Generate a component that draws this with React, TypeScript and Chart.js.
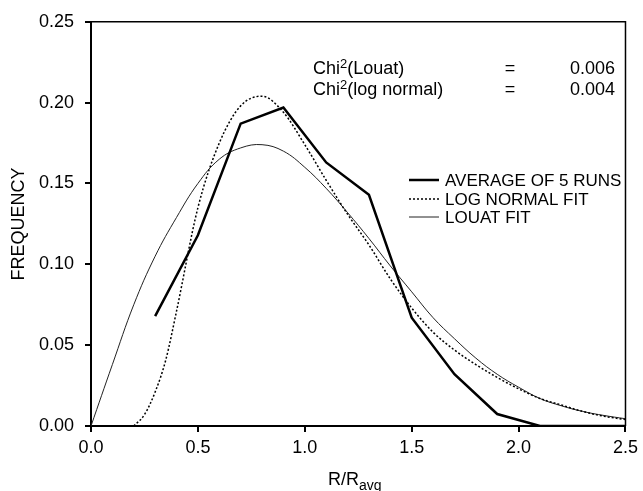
import React, { useEffect, useRef } from "react";
import { Chart, registerables } from "chart.js";

Chart.register(...registerables);

// Average of 5 runs (measured histogram points)
const avgX = [0.3, 0.5, 0.7, 0.9, 1.1, 1.3, 1.5, 1.7, 1.9, 2.1, 2.3, 2.5];
const avgY = [0.068, 0.118, 0.187, 0.197, 0.163, 0.143, 0.067, 0.032, 0.0074, 0.0, 0.0, 0.0];

// Log normal fit
const logNormX = [0.2, 0.25, 0.3, 0.35, 0.4, 0.5, 0.6, 0.7, 0.8, 0.9, 1.0, 1.1, 1.2, 1.3, 1.4, 1.5, 1.6, 1.7, 1.8, 1.9, 2.0, 2.1, 2.2, 2.3, 2.4, 2.5];
const logNormY = [0.0, 0.007, 0.021, 0.041, 0.071, 0.135, 0.175, 0.198, 0.204, 0.194, 0.174, 0.152, 0.131, 0.112, 0.091, 0.073, 0.058, 0.047, 0.038, 0.030, 0.023, 0.017, 0.013, 0.009, 0.006, 0.004];

// Louat fit
const louatX = [0.0, 0.1, 0.2, 0.3, 0.4, 0.5, 0.6, 0.7, 0.8, 0.9, 1.0, 1.1, 1.2, 1.3, 1.4, 1.5, 1.6, 1.7, 1.8, 1.9, 2.0, 2.1, 2.2, 2.3, 2.4, 2.5];
const louatY = [0.0, 0.038, 0.075, 0.105, 0.129, 0.150, 0.165, 0.172, 0.174, 0.170, 0.160, 0.147, 0.132, 0.116, 0.099, 0.083, 0.067, 0.054, 0.042, 0.032, 0.024, 0.017, 0.0125, 0.009, 0.0065, 0.0045];

const xTicks = [0, 0.5, 1.0, 1.5, 2.0, 2.5];
const yTicks = [0, 0.05, 0.1, 0.15, 0.2, 0.25];

const legendLabels = ["AVERAGE OF 5 RUNS", "LOG NORMAL FIT", "LOUAT FIT"];
const chiLabels = ["Louat", "log normal"];
const chiValues = ["0.006", "0.004"];

const FONT = "'Liberation Sans', Arial, Helvetica, sans-serif";

const toPts = (xs: number[], ys: number[]) => xs.map((x, i) => ({ x, y: ys[i] }));

const annotPlugin = {
  id: "annot",
  afterDraw(chart: any) {
    const ctx = chart.ctx as CanvasRenderingContext2D;
    const { left, right, top, bottom } = chart.chartArea;
    ctx.save();
    // top & right frame
    ctx.strokeStyle = "#000";
    ctx.lineWidth = 1.5;
    ctx.beginPath();
    ctx.moveTo(left, top);
    ctx.lineTo(right, top);
    ctx.lineTo(right, bottom);
    ctx.stroke();

    ctx.fillStyle = "#000";
    ctx.textBaseline = "alphabetic";
    // Chi^2 text
    const baseY = [74, 95];
    chiLabels.forEach((lab, i) => {
      let x = 313;
      ctx.font = `18px ${FONT}`;
      ctx.textAlign = "left";
      ctx.fillText("Chi", x, baseY[i]);
      x += ctx.measureText("Chi").width;
      ctx.font = `13px ${FONT}`;
      ctx.fillText("2", x, baseY[i] - 6);
      x += ctx.measureText("2").width;
      ctx.font = `18px ${FONT}`;
      ctx.fillText(`(${lab})`, x, baseY[i]);
      ctx.textAlign = "center";
      ctx.fillText("=", 510, baseY[i]);
      ctx.textAlign = "right";
      ctx.fillText(chiValues[i], 615, baseY[i]);
    });

    // Legend
    const legBase = [186, 205, 223];
    chart.data.datasets.forEach((ds: any, i: number) => {
      const yMid = legBase[i] - 6;
      ctx.strokeStyle = ds.borderColor;
      ctx.lineWidth = ds.borderWidth;
      ctx.setLineDash(ds.borderDash || []);
      ctx.beginPath();
      ctx.moveTo(409, yMid);
      ctx.lineTo(439, yMid);
      ctx.stroke();
      ctx.setLineDash([]);
      ctx.font = `17px ${FONT}`;
      ctx.textAlign = "left";
      ctx.fillStyle = "#000";
      ctx.fillText(legendLabels[i], 445, legBase[i]);
    });

    // X axis title with subscript
    ctx.font = `18px ${FONT}`;
    ctx.textAlign = "left";
    ctx.fillText("R/R", 328, 485);
    const w = ctx.measureText("R/R").width;
    ctx.font = `14px ${FONT}`;
    ctx.fillText("avg", 328 + w, 490);
    ctx.restore();
  },
};

export default function App() {
  const ref = useRef<HTMLCanvasElement>(null);
  useEffect(() => {
    if (!ref.current) return;
    const chart = new Chart(ref.current, {
      type: "line",
      data: {
        datasets: [
          {
            label: legendLabels[0],
            data: toPts(avgX, avgY),
            borderColor: "#000",
            borderWidth: 2.5,
            pointRadius: 0,
            tension: 0,
            fill: false,
          },
          {
            label: legendLabels[1],
            data: toPts(logNormX, logNormY),
            borderColor: "#000",
            borderWidth: 1.5,
            borderDash: [2, 2],
            pointRadius: 0,
            cubicInterpolationMode: "monotone",
            fill: false,
          },
          {
            label: legendLabels[2],
            data: toPts(louatX, louatY),
            borderColor: "#222",
            borderWidth: 1,
            pointRadius: 0,
            tension: 0.4,
            fill: false,
          },
        ],
      },
      options: {
        animation: false,
        responsive: false,
        devicePixelRatio: 1,
        layout: { padding: { left: 0, top: 18, right: 14, bottom: 0 } },
        plugins: { legend: { display: false }, tooltip: { enabled: false } },
        scales: {
          x: {
            type: "linear",
            min: 0,
            max: 2.5,
            afterBuildTicks: (s: any) => {
              s.ticks = xTicks.map((v) => ({ value: v }));
            },
            afterFit: (s: any) => {
              s.height = 65;
            },
            ticks: {
              color: "#000",
              font: { family: FONT, size: 18 },
              padding: 5,
              maxRotation: 0,
              autoSkip: false,
              callback: (v: any) => Number(v).toFixed(1),
            },
            grid: { drawOnChartArea: false, drawTicks: true, tickLength: 6, color: "#000", lineWidth: 2 },
            border: { color: "#000", width: 2 },
          },
          y: {
            type: "linear",
            min: 0,
            max: 0.25,
            afterBuildTicks: (s: any) => {
              s.ticks = yTicks.map((v) => ({ value: v }));
            },
            afterFit: (s: any) => {
              s.width = 91;
            },
            ticks: {
              color: "#000",
              font: { family: FONT, size: 18 },
              padding: 11,
              autoSkip: false,
              callback: (v: any) => Number(v).toFixed(2),
            },
            grid: { drawOnChartArea: false, drawTicks: true, tickLength: 6, color: "#000", lineWidth: 2 },
            border: { color: "#000", width: 2 },
            title: {
              display: true,
              text: "FREQUENCY",
              color: "#000",
              font: { family: FONT, size: 18 },
              padding: { top: 8, bottom: 0 },
            },
          },
        },
      },
      plugins: [annotPlugin],
    } as any);
    return () => chart.destroy();
  }, []);
  return (
    <div style={{ position: "absolute", left: 0, top: 0, width: 643, height: 491, background: "#fff" }}>
      <canvas ref={ref} width={643} height={491} />
    </div>
  );
}
